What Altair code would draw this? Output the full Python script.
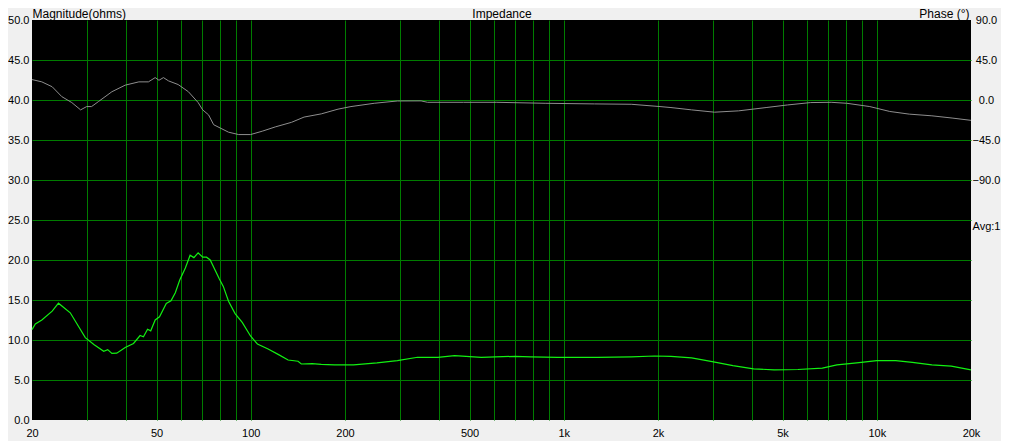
import altair as alt
import pandas as pd

# Magnitude (ohms) readings
mag_freq = [20, 20.5, 21.5, 23.2, 24.3, 26.5, 29.6, 31.6, 33.9, 34.9, 36, 37.3, 39.7, 42.2,
            44.3, 45.4, 46.8, 47.9, 49.5, 51.1, 53.7, 55.6, 57.4, 59.3, 61.8, 64.0, 65.8,
            67.9, 70.2, 72.2, 74.2, 79.3, 81.7, 84.9, 89.1, 93.9, 99.8, 105, 113.6, 122.7,
            131.6, 141.6, 145, 157, 168, 185, 213, 253, 294, 341, 396, 448, 545, 700, 784,
            955, 1280, 1642, 1950, 2200, 2560, 2980, 3470, 4040, 4700, 5600, 6700, 7460,
            8630, 10000, 11500, 12990, 15000, 17300, 20000]
mag_ohm = [11.3, 12.0, 12.5, 13.6, 14.6, 13.4, 10.3, 9.4, 8.6, 8.8, 8.33, 8.35, 9.07, 9.57,
           10.56, 10.4, 11.35, 11.15, 12.5, 12.9, 14.57, 14.9, 15.9, 17.5, 19.0, 20.6, 20.3,
           20.9, 20.35, 20.35, 20.0, 17.66, 16.7, 14.85, 13.3, 12.2, 10.5, 9.5, 8.87, 8.17,
           7.5, 7.35, 7.0, 7.05, 6.95, 6.9, 6.9, 7.14, 7.43, 7.84, 7.84, 8.04, 7.84, 7.96, 7.9,
           7.84, 7.84, 7.9, 8.0, 7.96, 7.76, 7.3, 6.8, 6.4, 6.27, 6.31, 6.48, 6.9,
           7.14, 7.43, 7.43, 7.2, 6.9, 6.73, 6.27]

# Phase (degrees) readings
ph_freq = [20, 21.5, 23.2, 24.9, 26.8, 28.6, 29.9, 31, 32.6, 36, 39.7, 43.9, 47.1, 49.5,
           50.9, 52.6, 54.6, 58.6, 63.2, 67.9, 70.2, 73.3, 76.1, 84.9, 91.5, 99.8, 108.8,
           119.7, 135, 148, 168, 190, 209, 248, 294, 350, 367, 478, 611, 872, 1254, 1642,
           2030, 2200, 2560, 3030, 3620, 4430, 5180, 6150, 7150, 8020, 9500, 11000, 12700,
           15000, 17400, 20000]
ph_deg = [23.0, 20.4, 14.9, 3.8, -2.9, -11.1, -7.4, -7.4, -1.8, 9.3, 16.7, 20.4, 20.4, 25.2,
          22.2, 25.2, 21.5, 17.4, 9.3, -2.9, -11.1, -16.7, -27.8, -36.2, -38.9, -38.9, -35.1,
          -30.3, -25.1, -19.2, -15.6, -10.3, -7.4, -3.7, -1.1, -1.0, -2.6, -2.6, -2.6, -3.7,
          -4.4, -4.8, -7.4, -8.5, -11.1, -13.7, -12.2, -8.5, -5.6, -2.9, -2.6, -3.7, -7.4,
          -12.9, -15.9, -17.8, -20.3, -22.9]

x_grid = [20, 30, 40, 50, 60, 70, 80, 90, 100, 200, 300, 400, 500, 600, 700, 800, 900,
          1000, 2000, 3000, 4000, 5000, 6000, 7000, 8000, 9000, 10000, 20000]
x_labels = [20, 50, 100, 200, 500, 1000, 2000, 5000, 10000, 20000]
mag_ticks = [0, 5, 10, 15, 20, 25, 30, 35, 40, 45, 50]
phase_ticks = [90, 45, 0, -45, -90, -142]

mag_df = pd.DataFrame({"freq": mag_freq, "ohm": mag_ohm})
ph_df = pd.DataFrame({"freq": ph_freq, "deg": ph_deg})

FONT = "Liberation Sans"
GRID = "#007c00"
W, H = 939, 400

label_list = "[" + ",".join(str(v) for v in x_labels) + "]"
x_scale = alt.Scale(type="log", domain=[20, 20000], nice=False)
x_axis = alt.Axis(
    values=x_grid,
    labelExpr=f"indexof({label_list}, datum.value) >= 0 ? (datum.value >= 1000 ? (datum.value/1000) + 'k' : datum.value + '') : ''",
    grid=True, gridColor=GRID,
    gridOpacity={"condition": {"test": "datum.value < 21 || datum.value > 19000", "value": 0}, "value": 1},
    ticks=False, tickSize=0, domain=False, labelPadding=7, labelOverlap=False, labelFlush=False,
    labelFont=FONT, labelFontSize=11, labelColor="black", title=None,
)
x_top_axis = alt.Axis(
    orient="top", labels=False, grid=False, ticks=False, tickSize=0, domain=False,
    title="Impedance", titleX=W / 2, titleY=-3, titleAlign="center", titleAngle=0,
    titleBaseline="alphabetic", titleFont=FONT, titleFontSize=12, titleFontWeight="normal",
    titleColor="black",
)

mag = alt.Chart(mag_df).mark_line(color="#12f012", strokeWidth=1.2).encode(
    x=alt.X("freq:Q", scale=x_scale, axis=x_axis),
    y=alt.Y("ohm:Q", scale=alt.Scale(domain=[0, 50], nice=False, zero=False),
            axis=alt.Axis(values=mag_ticks, format=".1f", grid=True, gridColor=GRID,
                          gridOpacity={"condition": {"test": "datum.value < 1 || datum.value > 49", "value": 0}, "value": 1},
                          ticks=False, tickSize=0, domain=False, labelPadding=3,
                          labelFont=FONT, labelFontSize=11, labelColor="black",
                          title="Magnitude(ohms)", titleAngle=0, titleAlign="left",
                          titleBaseline="alphabetic", titleX=0, titleY=-3,
                          titleFont=FONT, titleFontSize=12, titleFontWeight="normal",
                          titleColor="black")),
)

phase = alt.Chart(ph_df).mark_line(color="#8e8e8e", strokeWidth=1).encode(
    x=alt.X("freq:Q", scale=x_scale, axis=x_top_axis),
    y=alt.Y("deg:Q", scale=alt.Scale(domain=[-360, 90], nice=False, zero=False),
            axis=alt.Axis(orient="right", values=phase_ticks,
                          labelExpr="datum.value < -100 ? 'Avg:1' : format(datum.value, '.1f')",
                          grid=False, ticks=False, tickSize=0, domain=False,
                          labelAlign="center", labelPadding=15,
                          labelFont=FONT, labelFontSize=11, labelColor="black",
                          title="Phase (°)", titleAngle=0, titleAlign="right",
                          titleBaseline="alphabetic", titleX=-2, titleY=-3,
                          titleFont=FONT, titleFontSize=12, titleFontWeight="normal",
                          titleColor="black")),
)

chart = alt.layer(mag, phase).resolve_scale(y="independent").resolve_axis(
    x="independent", y="independent"
).properties(
    width=W, height=H,
    autosize=alt.AutoSizeParams(type="none"),
    padding={"left": 24, "top": 12, "right": 30, "bottom": 21},
).configure(background="#f0f0f0").configure_view(fill="black", stroke=None)

chart.save("out.html", embed_options={"renderer": "svg", "actions": False})
